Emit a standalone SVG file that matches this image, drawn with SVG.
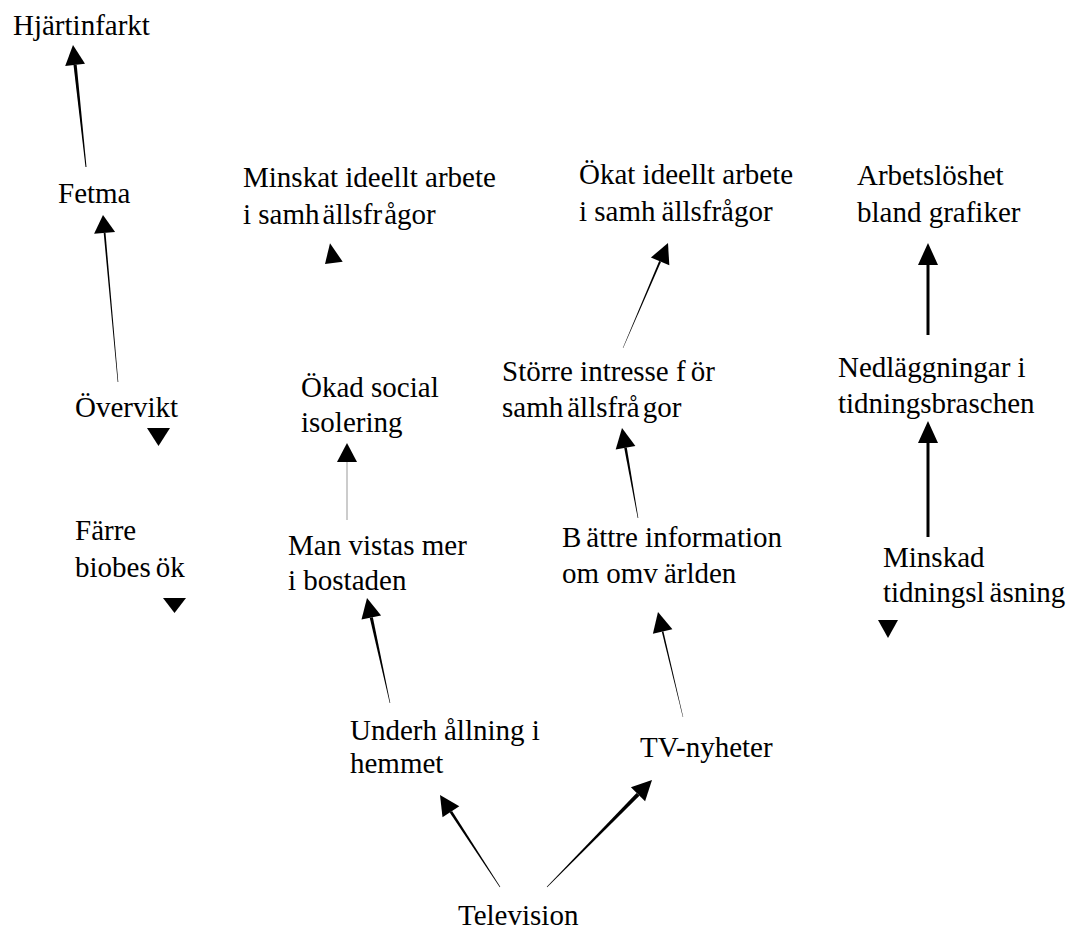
<svg xmlns="http://www.w3.org/2000/svg" width="1068" height="929" viewBox="0 0 1068 929">
<style>
text{font-family:"Liberation Serif","Times New Roman",serif;font-size:29px;fill:#000}
.h{fill:#000;stroke:none}
.s{stroke:#000;fill:none;stroke-linecap:butt}
</style>
<rect width="1068" height="929" fill="#fff"/>
<g id="connectors">
<polygon class="h" points="86.5,166.95 76.69,64.73 73.51,65.07 85.5,167.05"/>
<polygon class="h" points="73,45 85,63.8 65.2,66"/>
<polygon class="h" points="118.3,381.97 105.5,232.82 103.7,232.98 117.7,382.03"/>
<polygon class="h" points="103,215 115.1,232 94.1,233.8"/>
<polygon class="h" points="330,243.3 342.7,261.7 325,264"/>
<line x1="347" y1="520" x2="347" y2="462" stroke="#999" stroke-width="1"/>
<polygon class="h" points="347,443 357,462 337,462"/>
<polygon class="h" points="390.29,702.94 372.86,617.16 369.74,617.84 389.71,703.06"/>
<polygon class="h" points="367,598 381.1,615.4 361.5,619.6"/>
<polygon class="h" points="500.25,886.84 452.07,811.04 449.73,812.56 499.75,887.16"/>
<polygon class="h" points="440,795 459.3,806.3 442.5,817.3"/>
<polygon class="h" points="547.21,887.21 639.43,795.7 636.57,792.9 546.79,886.79"/>
<polygon class="h" points="652,780 645.1,801.3 630.9,787.3"/>
<polygon class="h" points="683.19,716.95 663.38,631.31 661.82,631.69 682.81,717.05"/>
<polygon class="h" points="658,612 672.4,629.2 652.9,633.8"/>
<polygon class="h" points="638.3,517.95 626.78,447.47 624.22,447.93 637.7,518.05"/>
<polygon class="h" points="622,428 635.4,445.9 615.7,449.5"/>
<polygon class="h" points="623.18,348.08 661.02,261.79 659.18,261.01 622.82,347.92"/>
<polygon class="h" points="668,243 669.3,265.3 650.9,257.5"/>
<line class="s" x1="928" y1="335" x2="928" y2="264" stroke-width="3"/>
<polygon class="h" points="928,243 938,265 918,265"/>
<line class="s" x1="928" y1="537" x2="928" y2="442" stroke-width="3"/>
<polygon class="h" points="928,421 938,443 918,443"/>
<polygon class="h" points="147,428 170,428 158.5,446"/>
<polygon class="h" points="163,598 186,598 174.5,613"/>
<polygon class="h" points="878,620 898,620 888,638"/>
</g>
<g id="hjartinfarkt"><text x="13" y="35">Hjärtinfarkt</text></g>
<g id="fetma"><text x="58" y="203">Fetma</text></g>
<g id="overvikt"><text x="75" y="417">Övervikt</text></g>
<g id="farre-biobesok"><text x="75" y="540">Färre</text><text x="75" y="577">biobes<tspan dx="5">ök</tspan></text></g>
<g id="minskat-ideellt"><text x="243" y="187">Minskat ideellt arbete</text><text x="243" y="224">i samh<tspan dx="3">ällsfr</tspan><tspan dx="2">ågor</tspan></text></g>
<g id="okat-ideellt"><text x="579" y="184">Ökat ideellt arbete</text><text x="579" y="221">i samh<tspan dx="6">ällsfrågor</tspan></text></g>
<g id="arbetsloshet"><text x="857" y="185">Arbetslöshet</text><text x="857" y="222">bland grafiker</text></g>
<g id="okad-social"><text x="301" y="397">Ökad social</text><text x="301" y="432">isolering</text></g>
<g id="storre-intresse"><text x="502" y="381">Större intresse f<tspan dx="5">ör</tspan></text><text x="502" y="417">samh<tspan dx="4">ällsfrå</tspan><tspan dx="3">gor</tspan></text></g>
<g id="nedlaggningar"><text x="838" y="377">Nedläggningar i</text><text x="838" y="413">tidningsbraschen</text></g>
<g id="man-vistas"><text x="288" y="555">Man vistas mer</text><text x="288" y="590">i bostaden</text></g>
<g id="battre-information"><text x="562" y="547">B<tspan dx="5">ättre information</tspan></text><text x="562" y="583">om omv<tspan dx="6">ärlden</tspan></text></g>
<g id="minskad-tidningslasning"><text x="883" y="567">Minskad</text><text x="883" y="602">tidningsl<tspan dx="5">äsning</tspan></text></g>
<g id="underhallning"><text x="350" y="740">Underh<tspan dx="7">ållning i</tspan></text><text x="350" y="773">hemmet</text></g>
<g id="tv-nyheter"><text x="640" y="757">TV-nyheter</text></g>
<g id="television"><text x="458" y="925">Television</text></g>
</svg>
